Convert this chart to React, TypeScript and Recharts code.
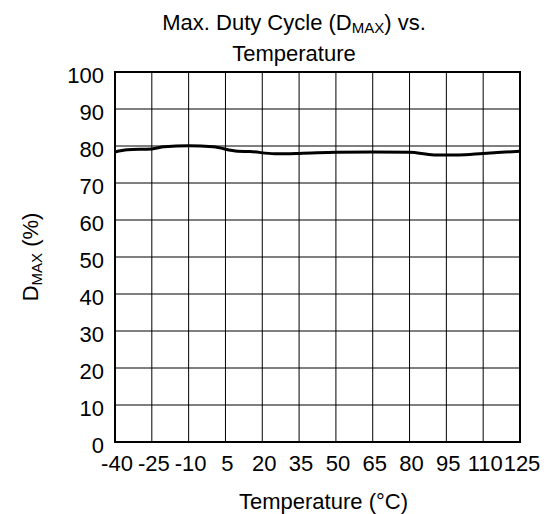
import { LineChart, Line, XAxis, YAxis, CartesianGrid, ReferenceArea, Label } from "recharts";

const temps = [-40, -35, -25, -20, -10, 0, 10, 15, 25, 35, 50, 65, 80, 90, 100, 110, 125];
const dmax = [78.4, 79.0, 79.2, 79.8, 80.1, 79.8, 78.6, 78.5, 77.9, 78.0, 78.3, 78.4, 78.3, 77.6, 77.6, 78.0, 78.6];
const xTicks = [-40, -25, -10, 5, 20, 35, 50, 65, 80, 95, 110, 125];
const yTicks = [0, 10, 20, 30, 40, 50, 60, 70, 80, 90, 100];

const data = temps.map((t, i) => ({ t, d: dmax[i] }));

const FONT = "'Liberation Sans', Arial, sans-serif";
const FS = 22;

function YLabel({ viewBox }: any) {
  const cy = viewBox.y + viewBox.height / 2;
  return (
    <text x={0} y={0} transform={`translate(38, ${cy}) rotate(-90)`} textAnchor="middle" fontSize={FS} fontFamily={FONT} fill="#000">
      <tspan>D</tspan>
      <tspan fontSize={15} dy={4}>MAX</tspan>
      <tspan dy={-4}> (%)</tspan>
    </text>
  );
}

function XLabel({ viewBox }: any) {
  const cx = viewBox.x + viewBox.width / 2 + 6;
  return (
    <text x={cx} y={509} textAnchor="middle" fontSize={FS} fontFamily={FONT} fill="#000">
      Temperature (°C)
    </text>
  );
}

export default function App() {
  return (
    <div style={{ position: "absolute", left: 0, top: 0, width: 552, height: 514, background: "#fff", fontFamily: FONT }}>
      <div style={{ position: "absolute", left: 44, width: 500, top: 7, textAlign: "center", fontSize: FS, lineHeight: "31px", color: "#000" }}>
        Max. Duty Cycle (D<span style={{ fontSize: 15, verticalAlign: "-3px", lineHeight: 0 }}>MAX</span>) vs.
        <br />
        Temperature
      </div>
      <LineChart width={552} height={514} data={data} margin={{ top: 72, right: 32, bottom: 0, left: 0 }}>
        <CartesianGrid stroke="#000" strokeWidth={1} />
        <XAxis
          dataKey="t"
          type="number"
          domain={[-40, 125]}
          ticks={xTicks}
          interval={0}
          axisLine={false}
          tickLine={false}
          tickSize={0}
          tickMargin={13}
          tick={{ fill: "#000", fontSize: FS, fontFamily: FONT, dx: 2 }}
          height={72}
        >
          <Label content={<XLabel />} />
        </XAxis>
        <YAxis
          type="number"
          domain={[0, 100]}
          ticks={yTicks}
          interval={0}
          axisLine={false}
          tickLine={false}
          tickSize={0}
          tickMargin={11}
          tick={{ fill: "#000", fontSize: FS, fontFamily: FONT, dy: 3 }}
          width={115}
        >
          <Label content={<YLabel />} />
        </YAxis>
        <ReferenceArea x1={-40} x2={125} y1={0} y2={100} fill="none" stroke="#000" strokeWidth={2} />
        <Line type="monotone" dataKey="d" stroke="#000" strokeWidth={3} dot={false} isAnimationActive={false} />
      </LineChart>
    </div>
  );
}
